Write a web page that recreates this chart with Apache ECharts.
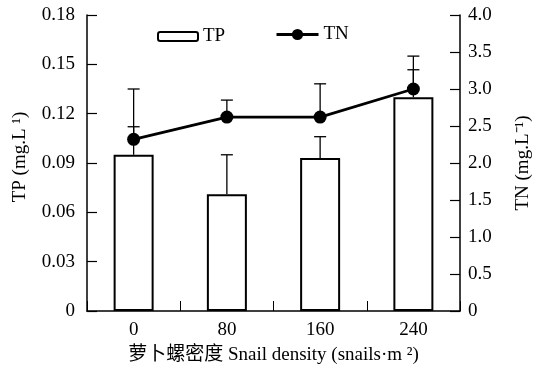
<!DOCTYPE html>
<html>
<head>
<meta charset="utf-8">
<script src="https://cdn.jsdelivr.net/npm/echarts@6/dist/echarts.min.js"></script>
<style>
  html, body { margin: 0; padding: 0; background: #fff; }
  #chart { width: 533px; height: 374px; }
</style>
</head>
<body>
<div id="chart"></div>
<script>
// 数据
const densities = ['0', '80', '160', '240'];
const tpMean = [0.095, 0.071, 0.093, 0.130];
const tpErr = [0.040, 0.024, 0.013, 0.025];
const tnMean = [2.32, 2.62, 2.62, 3.00];
const tnErr = [0.17, 0.23, 0.45, 0.26];

const font = '"Liberation Serif", "Noto Sans CJK SC", serif';
const fs = 19;
const chart = echarts.init(document.getElementById('chart'));

// 误差线（只画上半部分）
function errRender(means, errs) {
  return function (params, api) {
    const i = api.value(0);
    const base = api.coord([i, means[i]]);
    const top = api.coord([i, means[i] + errs[i]]);
    const half = 6;
    const style = { stroke: '#000', lineWidth: 1.3 };
    return {
      type: 'group',
      children: [
        { type: 'line', shape: { x1: base[0], y1: base[1], x2: top[0], y2: top[1] }, style: style },
        { type: 'line', shape: { x1: top[0] - half, y1: top[1], x2: top[0] + half, y2: top[1] }, style: style }
      ]
    };
  };
}

const axisLine = { show: true, lineStyle: { color: '#000', width: 1.5 } };
const axisTick = { show: true, inside: true, length: 10, lineStyle: { color: '#000', width: 1.2 } };
const label = { color: '#000', fontFamily: font, fontSize: fs };
const legendText = { color: '#000', fontFamily: font, fontSize: fs };

const option = {
  animation: false,
  textStyle: { fontFamily: font, color: '#000' },
  grid: { left: 87, right: 73, top: 15, bottom: 63, outerBoundsMode: 'none', containLabel: false },
  legend: [
    {
      data: ['TP'],
      left: 152,
      top: 22,
      itemWidth: 40,
      itemHeight: 9,
      textStyle: legendText
    },
    {
      data: ['TN'],
      left: 270,
      top: 20,
      itemWidth: 42,
      itemHeight: 14,
      lineStyle: { width: 3, color: '#000' },
      textStyle: legendText
    }
  ],
  xAxis: {
    type: 'category',
    data: densities,
    axisLine: axisLine,
    axisTick: { show: true, inside: true, length: 10, lineStyle: { color: '#000', width: 1 } },
    axisLabel: Object.assign({ margin: 10 }, label),
    name: '萝卜螺密度 Snail density (snails·m ²)',
    nameLocation: 'middle',
    nameGap: 35,
    nameTextStyle: { color: '#000', fontFamily: font, fontSize: fs }
  },
  yAxis: [
    {
      type: 'value', min: 0, max: 0.18, interval: 0.03,
      axisLine: axisLine, axisTick: axisTick, splitLine: { show: false },
      axisLabel: Object.assign({ margin: 12, formatter: v => v === 0 ? '0' : v.toFixed(2) }, label),
      name: 'TP (mg.L ¹)',
      nameLocation: 'middle',
      nameGap: 57,
      nameTextStyle: { color: '#000', fontFamily: font, fontSize: fs, padding: [0, 0, 0, 12] }
    },
    {
      type: 'value', min: 0, max: 4, interval: 0.5, position: 'right',
      axisLine: axisLine, axisTick: axisTick, splitLine: { show: false },
      axisLabel: Object.assign({ margin: 8, formatter: v => v === 0 ? '0' : v.toFixed(1) }, label),
      name: 'TN (mg.L⁻¹)',
      nameLocation: 'middle',
      nameGap: 54,
      nameRotate: 90,
      nameTextStyle: { color: '#000', fontFamily: font, fontSize: fs }
    }
  ],
  series: [
    {
      name: 'TP',
      type: 'bar',
      yAxisIndex: 0,
      data: tpMean,
      barWidth: 40,
      itemStyle: { color: '#fff', borderColor: '#000', borderWidth: 2 },
      z: 2
    },
    {
      name: 'TP误差',
      type: 'custom',
      yAxisIndex: 0,
      data: tpMean.map((v, i) => [i, v]),
      renderItem: errRender(tpMean, tpErr),
      z: 3
    },
    {
      name: 'TN误差',
      type: 'custom',
      yAxisIndex: 1,
      data: tnMean.map((v, i) => [i, v]),
      renderItem: errRender(tnMean, tnErr),
      z: 3
    },
    {
      name: 'TN',
      type: 'line',
      yAxisIndex: 1,
      data: tnMean,
      symbol: 'circle',
      symbolSize: 13,
      lineStyle: { color: '#000', width: 2.8 },
      itemStyle: { color: '#000' },
      z: 4
    }
  ]
};
chart.setOption(option);
</script>
</body>
</html>
